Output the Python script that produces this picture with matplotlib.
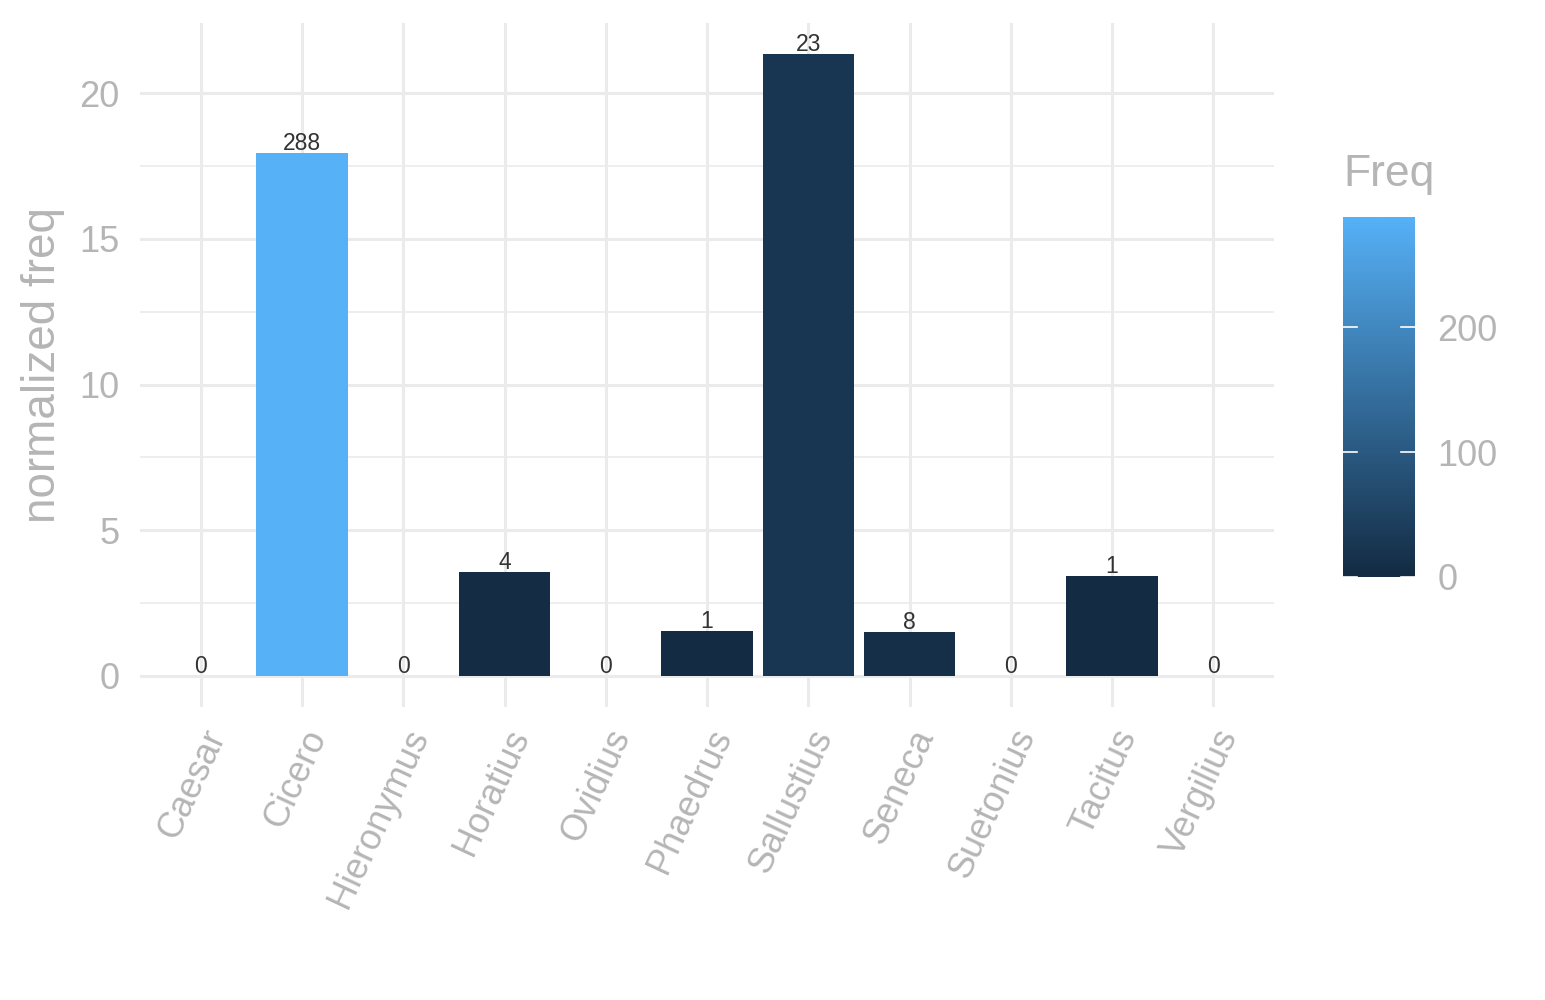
import numpy as np
import matplotlib
matplotlib.use("Agg")
import matplotlib.pyplot as plt
from matplotlib.colors import LinearSegmentedColormap, Normalize

authors = ["Caesar", "Cicero", "Hieronymus", "Horatius", "Ovidius", "Phaedrus",
           "Sallustius", "Seneca", "Suetonius", "Tacitus", "Vergilius"]
norm_freq = [0, 17.94, 0, 3.57, 0, 1.54, 21.34, 1.51, 0, 3.43, 0]
freq = [0, 288, 0, 4, 0, 1, 23, 8, 0, 1, 0]

plt.rcParams['font.family'] = ['Liberation Sans', 'DejaVu Sans']
grey_txt = '#B5B5B5'
grid_col = '#EBEBEB'

cmap = LinearSegmentedColormap.from_list('gg', ['#132B43', '#56B1F7'])
cnorm = Normalize(vmin=0, vmax=max(freq))

fig = plt.figure(figsize=(15.45, 10), dpi=100)
ax = fig.add_axes([140 / 1545, 293 / 1000, 1134 / 1545, 684 / 1000])

x = np.arange(len(authors))
ax.bar(x, norm_freq, width=0.9, color=cmap(cnorm(freq)), zorder=3)
for xi, v, f in zip(x, norm_freq, freq):
    ax.text(xi, v - 0.08, str(f), ha='center', va='bottom', fontsize=16.5,
            color='#333333', zorder=4)

ymax = max(norm_freq)
ax.set_xlim(-0.6, len(authors) - 1 + 0.6)
ax.set_ylim(-0.05 * ymax, ymax * 1.05)
ax.set_xticks(x)
ax.set_xticklabels(authors, rotation=65, ha='right', va='top',
                   rotation_mode='anchor', fontsize=26, color=grey_txt)
ax.set_yticks([0, 5, 10, 15, 20])
ax.set_yticks([2.5, 7.5, 12.5, 17.5], minor=True)
ax.tick_params(axis='y', labelsize=26, labelcolor=grey_txt, length=0, pad=15)
ax.tick_params(axis='x', length=0, pad=12)
ax.tick_params(which='minor', length=0)
ax.grid(True, which='major', color=grid_col, linewidth=2.2, zorder=0)
ax.grid(True, which='minor', axis='y', color=grid_col, linewidth=1.2, zorder=0)
ax.set_axisbelow(True)
for s in ax.spines.values():
    s.set_visible(False)
ax.set_ylabel('normalized freq', fontsize=33, color=grey_txt, labelpad=10)

# colour bar legend
cax = fig.add_axes([1343 / 1545, 423 / 1000, 72 / 1545, 360 / 1000])
grad = np.linspace(0, max(freq), 300).reshape(-1, 1)
cax.imshow(grad, aspect='auto', cmap=cmap, norm=cnorm, origin='lower',
           extent=[0, 1, 0, max(freq)])
for t in [0, 100, 200]:
    cax.plot([0, 0.2], [t, t], color='white', lw=1.2)
    cax.plot([0.8, 1], [t, t], color='white', lw=1.2)
cax.set_xlim(0, 1)
cax.set_ylim(0, max(freq))
cax.set_xticks([])
cax.yaxis.tick_right()
cax.set_yticks([0, 100, 200])
cax.tick_params(axis='y', length=0, labelsize=26, labelcolor=grey_txt, pad=16)
for s in cax.spines.values():
    s.set_visible(False)
fig.text(1343 / 1545, 0.805, 'Freq', fontsize=32, color=grey_txt,
         ha='left', va='bottom')

fig.savefig('out.png', dpi=100, facecolor='white')
